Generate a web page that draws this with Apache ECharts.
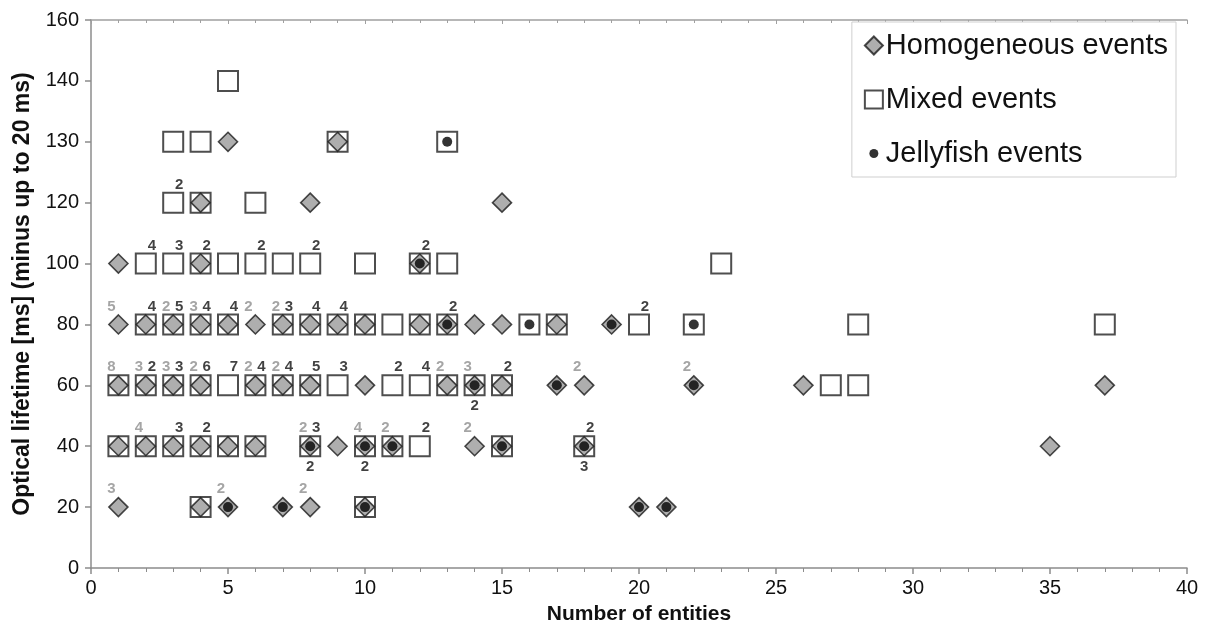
<!DOCTYPE html>
<html>
<head>
<meta charset="utf-8">
<script src="https://cdn.jsdelivr.net/npm/echarts@6/dist/echarts.min.js"></script>
<style>
  html, body { margin: 0; padding: 0; background: #fff; }
  #chart { width: 1215px; height: 636px; }
</style>
</head>
<body>
<div id="chart"></div>
<script>
// Lifetime rows shown on the vertical axis (evenly spaced labels)
const lifetimeTicks = ['0', '20', '40', '60', '80', '100', '120', '130', '140', '160'];

// [number of entities, optical lifetime (ms), number of events at that spot]
const homogeneous = [
  [5, 130], [9, 130],
  [4, 120], [8, 120], [15, 120],
  [1, 100], [4, 100], [12, 100],
  [1, 80, 5], [2, 80], [3, 80, 2], [4, 80, 3], [5, 80], [6, 80, 2], [7, 80, 2], [8, 80], [9, 80],
  [10, 80], [12, 80], [13, 80], [14, 80], [15, 80], [17, 80], [19, 80],
  [1, 60, 8], [2, 60, 3], [3, 60, 3], [4, 60, 2], [6, 60, 2], [7, 60, 2], [8, 60], [10, 60],
  [13, 60, 2], [14, 60, 3], [15, 60], [17, 60], [18, 60, 2], [22, 60, 2], [26, 60], [37, 60],
  [1, 40], [2, 40, 4], [3, 40], [4, 40], [5, 40], [6, 40], [8, 40, 2], [9, 40], [10, 40, 4],
  [11, 40, 2], [14, 40, 2], [15, 40], [18, 40], [35, 40],
  [1, 20, 3], [4, 20], [5, 20, 2], [7, 20], [8, 20, 2], [10, 20], [20, 20], [21, 20]
];

const mixed = [
  [5, 140],
  [3, 130], [4, 130], [9, 130], [13, 130],
  [3, 120, 2], [4, 120], [6, 120],
  [2, 100, 4], [3, 100, 3], [4, 100, 2], [5, 100], [6, 100, 2], [7, 100], [8, 100, 2], [10, 100],
  [12, 100, 2], [13, 100], [23, 100],
  [2, 80, 4], [3, 80, 5], [4, 80, 4], [5, 80, 4], [7, 80, 3], [8, 80, 4], [9, 80, 4], [10, 80],
  [11, 80], [12, 80], [13, 80, 2], [16, 80], [17, 80], [20, 80, 2], [22, 80], [28, 80], [37, 80],
  [1, 60], [2, 60, 2], [3, 60, 3], [4, 60, 6], [5, 60, 7], [6, 60, 4], [7, 60, 4], [8, 60, 5],
  [9, 60, 3], [11, 60, 2], [12, 60, 4], [13, 60], [14, 60], [15, 60, 2], [27, 60], [28, 60],
  [1, 40], [2, 40], [3, 40, 3], [4, 40, 2], [5, 40], [6, 40], [8, 40, 3], [10, 40], [11, 40],
  [12, 40, 2], [15, 40], [18, 40, 2],
  [4, 20], [10, 20]
];

const jellyfish = [
  [13, 130],
  [12, 100],
  [13, 80], [16, 80], [19, 80], [22, 80],
  [14, 60, 2], [17, 60], [22, 60],
  [8, 40, 2], [10, 40, 2], [11, 40], [15, 40], [18, 40, 3],
  [5, 20], [7, 20], [10, 20], [20, 20], [21, 20]
];

const FONT = '"Liberation Sans", Arial, Helvetica, sans-serif';

// y values are category names on the lifetime axis
const toPoints = rows => rows.map(r => [r[0], String(r[1]), r[2] || 1]);

const countLabel = (color, offset) => ({
  show: true,
  position: 'inside',
  offset: offset,
  color: color,
  fontFamily: FONT,
  fontWeight: 'bold',
  fontSize: 15,
  formatter: p => (p.value[2] > 1 ? String(p.value[2]) : '')
});

const dotIcon = 'image://data:image/svg+xml;utf8,' + encodeURIComponent(
  '<svg xmlns="http://www.w3.org/2000/svg" width="18" height="18"><circle cx="9" cy="9" r="4.5" fill="#000"/></svg>'
);

const chart = echarts.init(document.getElementById('chart'), null, { renderer: 'canvas' });

chart.setOption({
  animation: false,
  backgroundColor: '#fff',
  grid: { left: 91, right: 28, top: 20, bottom: 68, containLabel: false },
  legend: {
    orient: 'vertical',
    right: 39,
    top: 22,
    padding: [9, 8, 9, 12],
    itemGap: 25,
    itemWidth: 18,
    itemHeight: 18,
    backgroundColor: '#fff',
    borderColor: '#cfcfcf',
    borderWidth: 1,
    textStyle: { fontFamily: FONT, fontSize: 29, color: '#111', padding: [0, 0, 0, -2] },
    data: [
      { name: 'Homogeneous events' },
      { name: 'Mixed events' },
      { name: 'Jellyfish events', icon: dotIcon }
    ],
    selectedMode: false
  },
  xAxis: [{
    type: 'value',
    min: 0,
    max: 40,
    interval: 5,
    name: 'Number of entities',
    nameLocation: 'middle',
    nameGap: 36,
    nameTextStyle: { fontFamily: FONT, fontSize: 21, fontWeight: 'bold', color: '#111' },
    axisLine: { show: true, lineStyle: { color: '#8c8c8c', width: 1.5 } },
    axisTick: { show: true, length: 6, lineStyle: { color: '#8c8c8c', width: 1.5 } },
    minorTick: { show: true, splitNumber: 5, length: 4, lineStyle: { color: '#8c8c8c', width: 1 } },
    axisLabel: { fontFamily: FONT, fontSize: 20, color: '#111', margin: 10 },
    splitLine: { show: false }
  }, {
    type: 'value',
    position: 'top',
    min: 0,
    max: 40,
    interval: 5,
    axisLine: { show: true, lineStyle: { color: '#a0a0a0', width: 1.5 } },
    axisTick: { show: true, inside: true, length: 4, lineStyle: { color: '#a0a0a0' } },
    minorTick: { show: true, splitNumber: 5, length: 3, lineStyle: { color: '#a0a0a0' } },
    axisLabel: { show: false },
    splitLine: { show: false }
  }],
  yAxis: {
    type: 'category',
    data: lifetimeTicks,
    boundaryGap: false,
    name: 'Optical lifetime [ms] (minus up to 20 ms)',
    nameLocation: 'middle',
    nameGap: 57,
    nameTextStyle: { fontFamily: FONT, fontSize: 23, fontWeight: 'bold', color: '#111' },
    axisLine: { show: true, lineStyle: { color: '#8c8c8c', width: 1.5 } },
    axisTick: { show: true, length: 6, alignWithLabel: true, lineStyle: { color: '#8c8c8c', width: 1.5 } },
    axisLabel: { fontFamily: FONT, fontSize: 20, color: '#111', margin: 12, interval: 0 },
    splitLine: { show: false }
  },
  series: [
    {
      name: 'Homogeneous events',
      type: 'scatter',
      data: toPoints(homogeneous),
      symbol: 'diamond',
      symbolSize: 19,
      silent: true,
      itemStyle: { color: '#9a9a9a', borderColor: '#1a1a1a', borderWidth: 1.6 },
      label: countLabel('#8e8e8e', [-7, -18]),
      z: 2
    },
    {
      name: 'Mixed events',
      type: 'scatter',
      data: toPoints(mixed),
      symbol: 'rect',
      symbolSize: 20,
      silent: true,
      itemStyle: { color: 'rgba(255,255,255,0)', borderColor: '#222', borderWidth: 2 },
      label: countLabel('#111', [6, -18]),
      z: 3
    },
    {
      name: 'Jellyfish events',
      type: 'scatter',
      data: toPoints(jellyfish),
      symbol: 'circle',
      symbolSize: 10,
      silent: true,
      itemStyle: { color: '#000' },
      label: countLabel('#111', [0, 21]),
      z: 4
    }
  ]
});
</script>
</body>
</html>
